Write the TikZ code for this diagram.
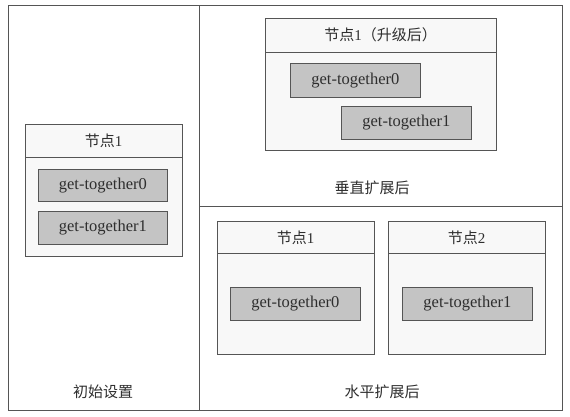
\documentclass[tikz,border=0pt]{standalone}
\usepackage{fontspec}
\setmainfont{Liberation Serif}
\newfontfamily\cjk{Noto Sans CJK SC}
\definecolor{linec}{HTML}{555555}
\definecolor{txtc}{HTML}{2E2E2E}
\definecolor{srvfill}{HTML}{F8F8F8}
\definecolor{shfill}{HTML}{C4C4C4}
\begin{document}
\begin{tikzpicture}[x=1pt,y=-1pt,
  every node/.style={text=txtc,font=\fontsize{15}{18}\selectfont},
  panel/.style={draw=linec,line width=1pt},
  server/.style={draw=linec,fill=srvfill,line width=0.8pt,anchor=north west,inner sep=0pt},
  shard/.style={draw=linec,fill=shfill,line width=0.8pt,anchor=north west,inner sep=0pt,minimum width=129pt,minimum height=33pt,font=\fontsize{16.5}{18}\selectfont},
  hdr/.style={inner sep=0pt},
  caption/.style={inner sep=0pt}]
\useasboundingbox (0,0) rectangle (570,416);
\fill[white] (0,0) rectangle (570,416);
% panels
\draw[panel] (8,5) rectangle (562,410);
\draw[panel] (199,5) -- (199,410);
\draw[panel] (199,206) -- (562,206);
% initial
\node[server,minimum width=157pt,minimum height=132pt] (s0) at (25,124) {};
\draw[linec,line width=0.8pt] ([yshift=-33pt]s0.north west) -- ([yshift=-33pt]s0.north east);
\node[hdr] (h0) at (103.5,141) {{\cjk 节点}1};
\node[shard,minimum width=129pt,minimum height=32pt] (a0) at (38,169) {get-together0};
\node[shard,minimum width=129pt,minimum height=33pt] (a1) at (38,211) {get-together1};
\node[caption] (c0) at (103,392) {\cjk 初始设置};
% vertical
\node[server,minimum width=231pt,minimum height=132pt] (s1) at (265,18) {};
\draw[linec,line width=0.8pt] ([yshift=-34pt]s1.north west) -- ([yshift=-34pt]s1.north east);
\node[hdr] (h1) at (380.5,35) {{\cjk 节点}1{\cjk （升级后）}};
\node[shard,minimum width=130pt,minimum height=34pt] (b0) at (290,63) {get-together0};
\node[shard,minimum width=130pt,minimum height=33pt] (b1) at (341,106) {get-together1};
\node[caption] (c1) at (372,188) {\cjk 垂直扩展后};
% horizontal
\node[server,minimum width=157pt,minimum height=133pt] (s2) at (217,221) {};
\draw[linec,line width=0.8pt] ([yshift=-32pt]s2.north west) -- ([yshift=-32pt]s2.north east);
\node[hdr] (h2) at (295.5,238) {{\cjk 节点}1};
\node[shard,minimum width=130pt,minimum height=33pt] (d0) at (230,287) {get-together0};
\node[server,minimum width=157pt,minimum height=133pt] (s3) at (388,221) {};
\draw[linec,line width=0.8pt] ([yshift=-32pt]s3.north west) -- ([yshift=-32pt]s3.north east);
\node[hdr] (h3) at (466.5,238) {{\cjk 节点}2};
\node[shard,minimum width=130pt,minimum height=33pt] (d1) at (402,287) {get-together1};
\node[caption] (c2) at (382,392) {\cjk 水平扩展后};
\end{tikzpicture}
\end{document}
